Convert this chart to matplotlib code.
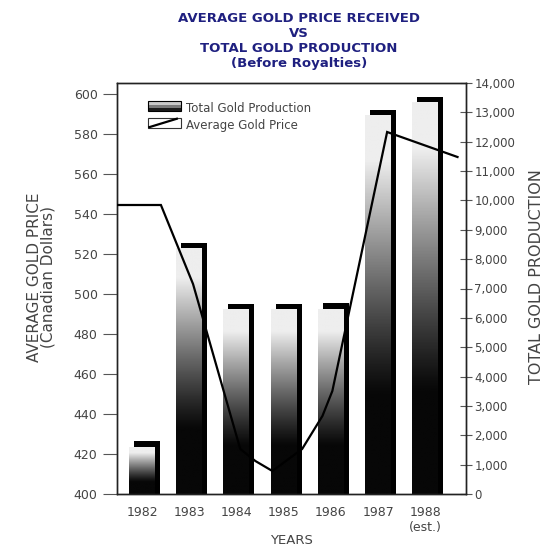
import numpy as np
import matplotlib
matplotlib.use("Agg")
import matplotlib.pyplot as plt
import matplotlib.transforms as mtransforms
from matplotlib.legend_handler import HandlerBase
from matplotlib.patches import Rectangle
from matplotlib.lines import Line2D
from matplotlib.ticker import FuncFormatter

plt.rcParams['font.family'] = ['DejaVu Sans']

# data
years = [1982, 1983, 1984, 1985, 1986, 1987, 1988]
year_labels = ['1982', '1983', '1984', '1985', '1986', '1987', '1988\n(est.)']
production = [1600, 8350, 6270, 6270, 6300, 12880, 13320]

# average price line (hand drawn in the original, so vertices sit between years)
price_x = [1981.47, 1982.40, 1983.08, 1984.08, 1984.40, 1984.76, 1985.39,
           1985.82, 1986.03, 1987.19, 1988.68]
price = [544.5, 544.5, 505, 422.5, 416.5, 411.5, 422.5, 439, 451.5, 581, 568.5]

price_ticks = list(range(400, 601, 20))
prod_ticks = list(range(0, 14001, 1000))

TEXT = '#444444'
TITLE = '#1f2080'

# gradient for the bar faces: light on top, black at the bottom
t = np.linspace(0, 1, 256)
shade = np.clip((t - 0.26) / 0.62, 0, 1) ** 1.15
grad = (0.03 + 0.9 * shade)[::-1].reshape(-1, 1)

fig = plt.figure(figsize=(5.48, 5.49), dpi=100)
ax = fig.add_axes([117 / 548, 1 - 494 / 549, (466 - 117) / 548, (494 - 83) / 549])
ax2 = ax.twinx()
ax.set_zorder(2)
ax2.set_zorder(1)
ax.patch.set_visible(False)

bar_w = 0.55
shadow = mtransforms.offset_copy(ax2.transData, fig=fig, x=5, y=6, units='dots')
for x, h in zip(years, production):
    # black block behind the face, pushed up-right, running below the axis line
    ax2.add_patch(Rectangle((x - bar_w / 2, -1000), bar_w, h + 1000, facecolor='black',
                            edgecolor='none', transform=shadow, zorder=1))
    ax2.imshow(grad, cmap='gray', vmin=0, vmax=1, aspect='auto',
               extent=(x - bar_w / 2, x + bar_w / 2, 0, h),
               interpolation='bilinear', zorder=2)

ax.plot(price_x, price, color='black', lw=1.6, solid_joinstyle='miter', zorder=3)

ax.set_xlim(1981.47, 1988.86)
ax.set_ylim(400, 605.5)
ax2.set_ylim(0, 14000 * (494 - 83) / (494 - 82))

ax.set_xticks(years)
ax.set_xticklabels(year_labels, fontsize=9, color=TEXT, va='top', linespacing=1.15)
ax.tick_params(axis='x', length=0, pad=9)
ax.set_yticks(price_ticks)
ax.tick_params(axis='y', direction='out', length=10, width=0.8, color='#555555',
               labelsize=9, labelcolor=TEXT, pad=4)
ax2.set_yticks(prod_ticks)
ax2.yaxis.set_major_formatter(FuncFormatter(lambda v, p: f'{int(v):,}'))
ax2.tick_params(axis='y', direction='inout', length=8, width=0.8, color='#555555',
                labelsize=8.5, labelcolor=TEXT, pad=2)

for a in (ax, ax2):
    for s in a.spines.values():
        s.set_color('#222222')
        s.set_linewidth(1.0)

ax.set_ylabel('AVERAGE GOLD PRICE\n(Canadian Dollars)', fontsize=11, color=TEXT,
              linespacing=0.95)
ax.yaxis.set_label_coords(-0.175, 0.528)
ax2.set_ylabel('TOTAL GOLD PRODUCTION', fontsize=11.5, color=TEXT)
ax2.yaxis.set_label_coords(1.18, 0.528)
ax.set_xlabel('YEARS', fontsize=9.5, color=TEXT, labelpad=0)

fig.text(0.545, 0.978, 'AVERAGE GOLD PRICE RECEIVED\nVS\nTOTAL GOLD PRODUCTION\n(Before Royalties)',
         ha='center', va='top', fontsize=9.5, fontweight='bold', color=TITLE,
         linespacing=1.2)


class BarSwatch(HandlerBase):
    def create_artists(self, legend, orig, xd, yd, w, h, fs, trans):
        base = Rectangle((xd, yd), w, h, facecolor='#7a7a7a', edgecolor='none',
                         transform=trans)
        top = Rectangle((xd, yd + h * 0.55), w, h * 0.45, facecolor='#c8c8c8',
                        edgecolor='none', transform=trans)
        low = Rectangle((xd, yd), w, h * 0.3, facecolor='#1a1a1a',
                        edgecolor='none', transform=trans)
        frame = Rectangle((xd, yd), w, h, facecolor='none', edgecolor='black',
                          lw=0.8, transform=trans)
        return [base, top, low, frame]


class LineSwatch(HandlerBase):
    def create_artists(self, legend, orig, xd, yd, w, h, fs, trans):
        frame = Rectangle((xd, yd), w, h, facecolor='white', edgecolor='#333333',
                          lw=0.8, transform=trans)
        diag = Line2D([xd + 1, xd + w - 3], [yd + 0.5, yd + h - 0.5], color='black',
                      lw=1.6, transform=trans)
        return [frame, diag]


h_bar = Rectangle((0, 0), 1, 1)
h_line = Line2D([0], [0])
ax.legend([h_bar, h_line], ['Total Gold Production', 'Average Gold Price'],
          handler_map={h_bar: BarSwatch(), h_line: LineSwatch()},
          loc='upper left', bbox_to_anchor=(0.065, 0.975), frameon=False,
          fontsize=8.5, labelcolor=TEXT, handlelength=2.8, handleheight=0.9,
          handletextpad=0.4, labelspacing=0.35, borderpad=0.2)

fig.savefig('out.png', dpi=100, facecolor='white')
